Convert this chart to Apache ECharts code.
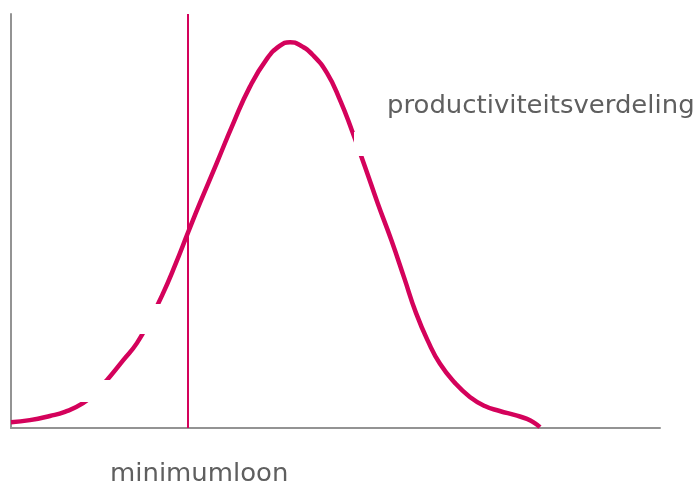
<!DOCTYPE html>
<html>
<head>
<meta charset="utf-8">
<script src="https://cdn.jsdelivr.net/npm/echarts@6/dist/echarts.min.js"></script>
<style>
html, body { margin: 0; padding: 0; background: #fff; }
#chart { width: 700px; height: 484px; }
</style>
</head>
<body>
<div id="chart"></div>
<script>
// productivity (x) and density (y)
var productivity = [0, 2.9, 6.0, 8.3, 11.1, 12.9, 14.8, 17.3, 19.4, 21.4, 23.3, 25.3, 27.3, 29.1, 31.7, 34.2, 36.8, 39.4, 41.4, 43.0,
                    44.5, 46.5, 48.7, 50.7, 52.5, 54.5, 56.5, 58.6, 60.6, 62.4, 64.3, 66.1, 68.4, 70.7, 73.0, 75.3, 77.7, 79.5, 80.7, 81.5];
var density    = [1.4, 1.9, 2.9, 3.9, 6.0, 8.5, 11.6, 16.4, 20.5, 26.1, 32.1, 39.4, 47.3, 54.3, 64.0, 73.4, 82.4, 89.1, 92.3, 93.2,
                    92.5, 90.1, 85.7, 79.2, 72.0, 63.3, 54.3, 45.4, 36.2, 27.8, 20.8, 15.5, 10.9, 7.5, 5.3, 4.1, 3.1, 2.2, 1.2, 0.2];
var minimumWage = 27.3;
var curveLabel = 'productiviteitsverdeling';
var wageLabel = 'minimumloon';

var chart = echarts.init(document.getElementById('chart'));
var pts = [];
for (var i = 0; i < productivity.length; i++) {
    pts.push([productivity[i], density[i]]);
}
var red = '#d4025b';
var option = {
    animation: false,
    grid: { left: 11, right: 40, top: 14, bottom: 56 },
    xAxis: {
        type: 'value', min: 0, max: 100,
        axisLine: { show: true, lineStyle: { color: '#939393', width: 2 } },
        axisTick: { show: false }, axisLabel: { show: false }, splitLine: { show: false }
    },
    yAxis: {
        type: 'value', min: 0, max: 100,
        axisLine: { show: true, lineStyle: { color: '#939393', width: 2 } },
        axisTick: { show: false }, axisLabel: { show: false }, splitLine: { show: false }
    },
    series: [{
        type: 'line',
        data: pts,
        smooth: 0.5,
        showSymbol: false,
        lineStyle: { color: red, width: 4.5 },
        markLine: {
            silent: true,
            symbol: 'none',
            label: { show: false },
            lineStyle: { color: red, width: 2, type: 'solid' },
            data: [{ xAxis: minimumWage }]
        }
    }],
    graphic: [
        // white breaks in the curve, as in the original
        { type: 'rect', z: 100, shape: { x: 354, y: 132, width: 20, height: 24 }, style: { fill: '#fff' } },
        { type: 'rect', z: 100, shape: { x: 135, y: 304, width: 34, height: 30 }, style: { fill: '#fff' } },
        { type: 'rect', z: 100, shape: { x: 75, y: 380, width: 36, height: 22 }, style: { fill: '#fff' } },
        { type: 'text', z: 101, x: 387, y: 95, scaleX: 1.08, style: { text: curveLabel, fill: '#5f5f5f', font: '24px "DejaVu Sans"', verticalAlign: 'top' } },
        { type: 'text', z: 101, x: 110, y: 463, scaleX: 1.08, style: { text: wageLabel, fill: '#5f5f5f', font: '24px "DejaVu Sans"', verticalAlign: 'top' } }
    ]
};
chart.setOption(option);
</script>
</body>
</html>
